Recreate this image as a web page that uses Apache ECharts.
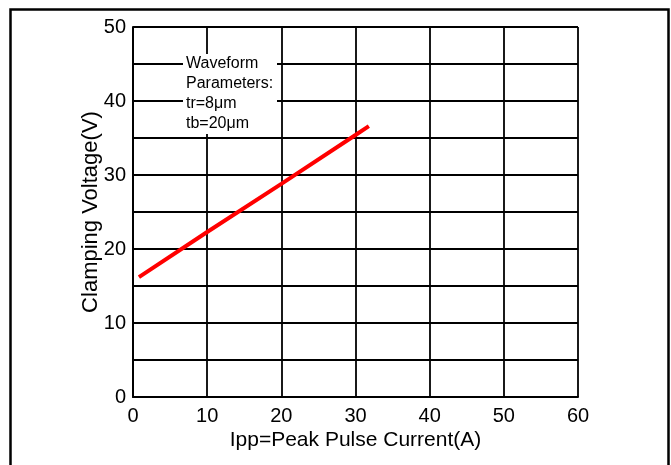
<!DOCTYPE html>
<html>
<head>
<meta charset="utf-8">
<script src="https://cdn.jsdelivr.net/npm/echarts@6/dist/echarts.min.js"></script>
<style>
html,body{margin:0;padding:0;background:#fff;}
#main{width:671px;height:465px;}
</style>
</head>
<body>
<div id="main"></div>
<script>
// Data
var currentA = [0.8, 10, 20, 30, 31.8];
var clampV   = [16.2, 22.3, 28.8, 35.4, 36.6];
var xTitle = 'Ipp=Peak Pulse Current(A)';
var yTitle = 'Clamping Voltage(V)';
var noteLines = ['Waveform', 'Parameters:', 'tr=8μm', 'tb=20μm'];

var chart = echarts.init(document.getElementById('main'), null, {renderer: 'canvas'});
var font = '"Liberation Sans", Arial, sans-serif';
var seriesData = currentA.map(function (x, i) { return [x, clampV[i]]; });

chart.setOption({
  backgroundColor: '#fff',
  animation: false,
  grid: {left: 133, right: 93, top: 27, bottom: 68},
  xAxis: {
    type: 'value', min: 0, max: 60, interval: 10,
    name: xTitle, nameLocation: 'middle', nameGap: 33, nameMoveOverlap: false,
    nameTextStyle: {color: '#000', fontSize: 21, fontFamily: font},
    axisLine: {show: true, lineStyle: {color: '#000', width: 2}},
    axisTick: {show: false},
    axisLabel: {color: '#000', fontSize: 20, fontFamily: font, margin: 9},
    splitLine: {show: true, lineStyle: {color: '#000', width: 1.8}}
  },
  yAxis: {
    type: 'value', min: 0, max: 50, interval: 5,
    name: yTitle, nameLocation: 'middle', nameGap: 31, nameMoveOverlap: false,
    nameTextStyle: {color: '#000', fontSize: 22, fontFamily: font},
    axisLine: {show: true, lineStyle: {color: '#000', width: 2}},
    axisTick: {show: false},
    axisLabel: {color: '#000', fontSize: 20, fontFamily: font, margin: 7,
      formatter: function (v) { return v % 10 === 0 ? String(v) : ''; }},
    splitLine: {show: true, lineStyle: {color: '#000', width: 1.8}}
  },
  graphic: [
    {type: 'rect', left: 8, top: 7, z: 100, silent: true,
      shape: {width: 658, height: 470},
      style: {fill: 'none', stroke: '#000', lineWidth: 2.5}},
    {type: 'rect', left: 183, top: 54, z: 50, silent: true,
      shape: {width: 94, height: 80},
      style: {fill: '#fff'}},
    {type: 'text', left: 186, top: 54, z: 51, silent: true,
      style: {text: noteLines.join('\n'), fill: '#000', fontSize: 16,
        fontFamily: font, lineHeight: 20}}
  ],
  series: [{
    type: 'line', data: seriesData, showSymbol: false, symbol: 'none',
    lineStyle: {color: '#ff0000', width: 4}, z: 10
  }]
});
</script>
</body>
</html>
